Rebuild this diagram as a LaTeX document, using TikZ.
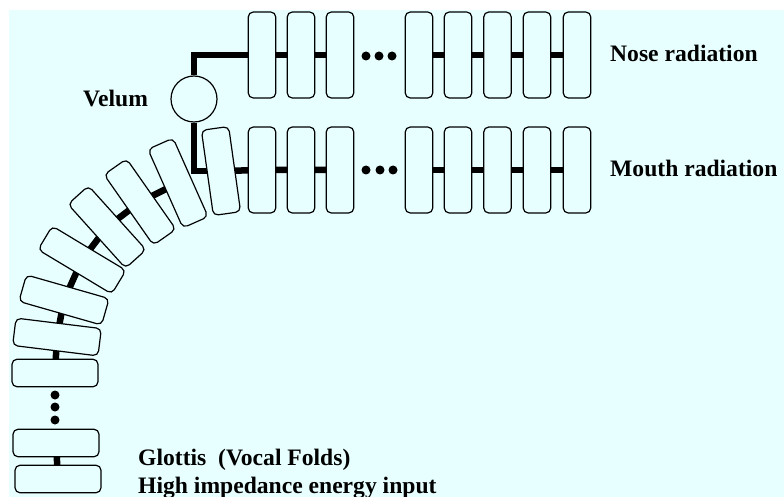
\documentclass[tikz,border=0pt]{standalone}
\usepackage{fontspec}
\setmainfont{Liberation Serif}
\definecolor{tubebg}{HTML}{E8FFFF}
\pgfdeclarelayer{paper}
\pgfdeclarelayer{links}
\pgfsetlayers{paper,links,main}
\begin{document}
\begin{tikzpicture}[x=1pt,y=-1pt,
  cell/.style={draw=black, line width=1.2pt, fill=tubebg, rounded corners=5pt,
    minimum width=86pt, minimum height=27.5pt, inner sep=0pt, outer sep=0pt},
  link/.style={line width=6.5pt, line join=miter},
  dot/.style={circle, fill=black, inner sep=0pt, minimum size=9pt},
  lbl/.style={anchor=base west, inner sep=0pt,
    font=\fontsize{23.6}{28}\selectfont\bfseries}]
\useasboundingbox (0,0) rectangle (784,497);
\begin{pgfonlayer}{paper}
  \fill[tubebg] (9,10) rectangle (784,497);
\end{pgfonlayer}

% glottis end of the tract
\node[cell] (g1) at (58,479) {};
\node[cell] (g2) at (56,443) {};
\node[dot] (vd1) at (55,395) {};
\node[dot] (vd2) at (55,407) {};
\node[dot] (vd3) at (55,420) {};

% bend of the vocal tract
\node[cell]            (b0) at (55,373) {};
\node[cell,rotate=-7]  (b1) at (57,337) {};
\node[cell,rotate=-16] (b2) at (64,300) {};
\node[cell,rotate=-31] (b3) at (82,260) {};
\node[cell,rotate=-48] (b4) at (107,227) {};
\node[cell,rotate=-55] (b5) at (140,202) {};
\node[cell,rotate=-66] (b6) at (178,183) {};
\node[cell,rotate=-82] (b7) at (221,171) {};

% nasal and oral branches
\foreach \x [count=\i] in {262,301,340,419,458,497.5,537,577} {
  \node[cell,rotate=90] (n\i) at (\x,55) {};
  \node[cell,rotate=90] (m\i) at (\x,170) {};
}
\node[dot] (nd1) at (366,56) {};
\node[dot] (nd2) at (379,56) {};
\node[dot] (nd3) at (392,56) {};
\node[dot] (md1) at (366,170) {};
\node[dot] (md2) at (380,170) {};
\node[dot] (md3) at (393,170) {};

% velum
\node[circle, draw=black, line width=1.2pt, fill=tubebg, minimum size=46pt,
  inner sep=0pt] (velum) at (194,99) {};

% couplings between sections
\begin{pgfonlayer}{links}
  \draw[link] (g1.center) -- (g2.center);
  \draw[link] (b0.center) -- (b1.center) -- (b2.center) -- (b3.center)
    -- (b4.center) -- (b5.center) -- (b6.center);
  \draw[link] (b7.center) -- (m1.center) -- (m2.center) -- (m3.center);
  \draw[link] (m4.center) -- (m5.center) -- (m6.center) -- (m7.center) -- (m8.center);
  \draw[link] (n1.center) -- (n2.center) -- (n3.center);
  \draw[link] (n4.center) -- (n5.center) -- (n6.center) -- (n7.center) -- (n8.center);
  \draw[link] (velum.north) |- (n1.center);
  \draw[link] (velum.south) |- (b7.center);
\end{pgfonlayer}

% labels
\node[lbl] (lvel) at (83,107) {Velum};
\node[lbl] (lnose) at (610,62) {Nose radiation};
\node[lbl] (lmouth) at (610,177) {Mouth radiation};
\node[lbl] (lglot) at (138,465) {Glottis\ \ (Vocal Folds)};
\node[lbl] (lhigh) at (138,493) {High impedance energy input};
\end{tikzpicture}
\end{document}
